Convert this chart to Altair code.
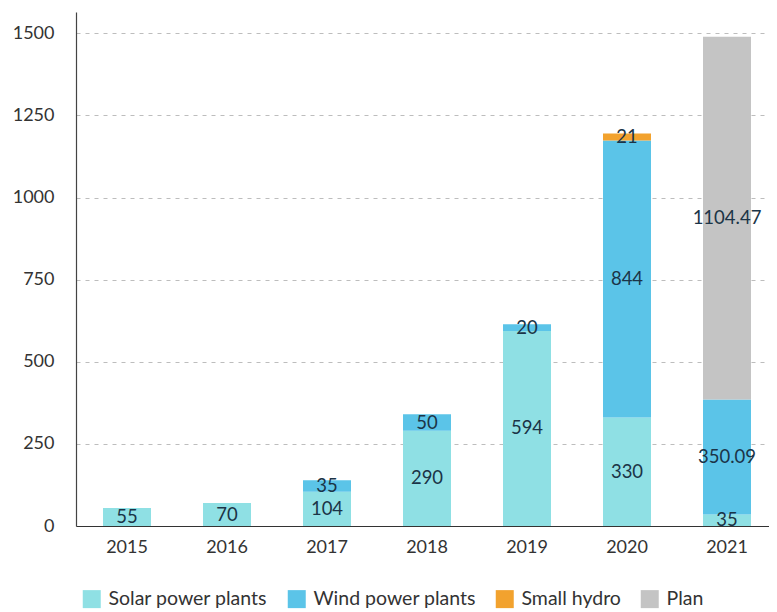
import altair as alt
import pandas as pd

years = ["2015", "2016", "2017", "2018", "2019", "2020", "2021"]
solar = [55, 70, 104, 290, 594, 330, 35]
wind = [None, None, 35, 50, 20, 844, 350.09]
hydro = [None, None, None, None, None, 21, None]
plan = [None, None, None, None, None, None, 1104.47]

series = ["Solar power plants", "Wind power plants", "Small hydro", "Plan"]
colors = ["#8fe0e4", "#5bc4e8", "#f2a22e", "#c4c4c4"]
y_ticks = [0, 250, 500, 750, 1000, 1250, 1500]

rows = []
for i, y in enumerate(years):
    for k, (name, vals) in enumerate(zip(series, [solar, wind, hydro, plan])):
        v = vals[i]
        if v is not None:
            rows.append({"year": y, "series": name, "order": k, "value": v, "label": str(v)})
df = pd.DataFrame(rows)

FONT = "Lato"

base = alt.Chart(df).transform_stack(
    stack="value", groupby=["year"], as_=["y0", "y1"],
    sort=[alt.SortField("order", order="ascending")]
).transform_calculate(mid="(datum.y0 + datum.y1) / 2")

xenc = alt.X("year:N", sort=years, title=None,
             scale=alt.Scale(paddingInner=0.52, paddingOuter=0.225, align=0.6),
             axis=alt.Axis(labelAngle=0, ticks=False, domain=True, domainColor="#333333",
                           domainWidth=1.2, labelFontSize=18, labelFont=FONT,
                           labelColor="#333333", labelPadding=12, grid=False))

bars = base.mark_bar().encode(
    x=xenc,
    y=alt.Y("y0:Q", title=None,
            scale=alt.Scale(domain=[0, 1565], nice=False),
            axis=alt.Axis(values=y_ticks, format="d", ticks=False, domain=True,
                          domainColor="#444444", domainWidth=1.2, grid=True,
                          gridDash=[4, 5], gridColor="#bdbdbd",
                          labelFontSize=18, labelFont=FONT, labelColor="#333333",
                          labelPadding=22)),
    y2="y1:Q",
    color=alt.Color("series:N", scale=alt.Scale(domain=series, range=colors),
                    legend=alt.Legend(title=None, orient="none", direction="horizontal",
                                      legendX=6, legendY=577, symbolType="square",
                                      symbolSize=324, symbolStrokeWidth=0,
                                      labelFontSize=19.5, labelFont=FONT, labelColor="#333333",
                                      labelLimit=400, columnPadding=19, labelOffset=7)),
)

texts = base.mark_text(fontSize=18.5, font=FONT, color="#1b3447", baseline="middle").encode(
    x=alt.X("year:N", sort=years),
    y=alt.Y("mid:Q"),
    text=alt.Text("label:N"),
)

chart = alt.layer(bars, texts).properties(
    width=693, height=514,
    autosize=alt.AutoSizeParams(type="none"),
    padding={"left": 68, "top": 4, "right": 0, "bottom": 86},
).configure_view(stroke=None)

chart.save("out.html", embed_options={"renderer": "svg", "actions": False})
